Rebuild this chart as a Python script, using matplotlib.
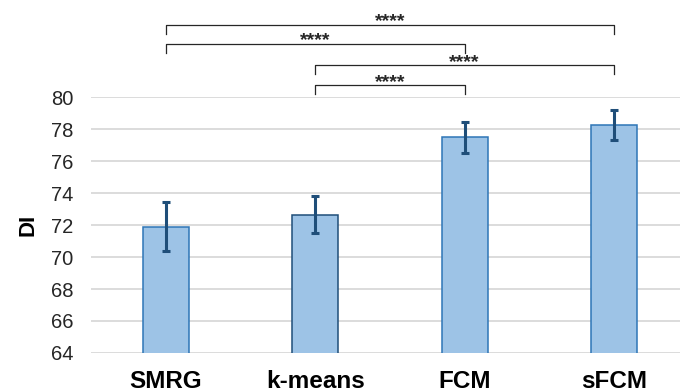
import matplotlib
matplotlib.use("Agg")
import matplotlib.pyplot as plt

plt.rcParams["font.family"] = ["Liberation Sans", "DejaVu Sans"]

# data
methods = ["SMRG", "k-means", "FCM", "sFCM"]
di_mean = [71.9, 72.65, 77.48, 78.25]
di_err = [1.55, 1.17, 0.97, 0.92]
edge_colors = ["#2E75B6", "#1F4E79", "#2E75B6", "#2E75B6"]

# significance brackets: (left index, right index, level, label)
brackets = [
    (0, 3, 84.5, "****"),
    (0, 2, 83.3, "****"),
    (1, 3, 81.98, "****"),
    (1, 2, 80.73, "****"),
]
drop = 0.55

fig = plt.figure(figsize=(6.8, 3.92), dpi=100)
ax = fig.add_axes([0.134, 0.0995, 0.879, 0.653])

x = range(len(methods))
ax.bar(x, di_mean, width=0.31, bottom=0, color="#9DC3E6",
       edgecolor=edge_colors, linewidth=1.1, zorder=3)
ax.errorbar(x, di_mean, yerr=di_err, fmt="none", ecolor="#1F4E79",
            elinewidth=2.2, capsize=2.8, capthick=2.2, zorder=4)

ax.set_ylim(64, 80)
ax.set_xlim(-0.5, 3.5)
ax.set_yticks(range(64, 81, 2))
ax.grid(axis="y", color="#D9D9D9", linewidth=1.3, zorder=0)
ax.set_axisbelow(True)
for s in ax.spines.values():
    s.set_visible(False)

ax.set_xticks(list(x))
ax.set_xticklabels(methods, fontsize=17.5, fontweight="bold")
ax.tick_params(axis="x", length=0, pad=12)
ax.tick_params(axis="y", length=0, pad=13, labelsize=14.5, labelcolor="#262626")
ax.set_ylabel("DI", fontsize=16, fontweight="bold", labelpad=9)

for i, j, lvl, lab in brackets:
    ax.plot([i, i, j, j], [lvl - drop, lvl, lvl, lvl - drop],
            color="#262626", linewidth=0.9, clip_on=False)
    ax.text((i + j) / 2, lvl - 0.08, lab, ha="center", va="baseline",
            fontsize=14, fontweight="bold", color="#262626")

fig.savefig("out.png", dpi=100)
